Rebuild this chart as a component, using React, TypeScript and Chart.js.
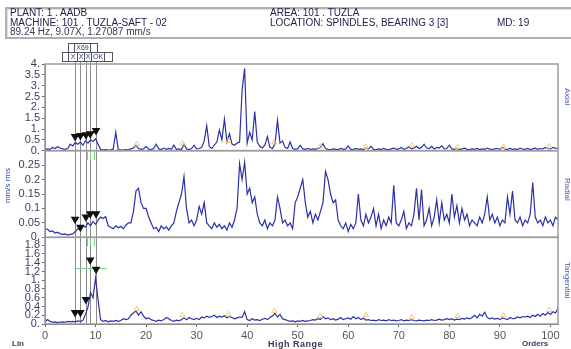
import React, { useEffect, useRef } from 'react';
import { Chart, registerables } from 'chart.js';

Chart.register(...registerables);

// ---------------- DATA ----------------
const ORDER_STEP = 0.5; // spectral line spacing in orders
const X_MAX = 101.5;
const X_TICKS = [0, 10, 20, 30, 40, 50, 60, 70, 80, 90, 100];

const AXIAL_TICKS = [0, 0.5, 1, 1.5, 2, 2.5, 3, 3.5, 4];
const RADIAL_TICKS = [0, 0.05, 0.1, 0.15, 0.2, 0.25];
const TANG_TICKS = [0, 0.2, 0.4, 0.6, 0.8, 1, 1.2, 1.4, 1.6, 1.8];

const AXIAL = [
  0.05, 0.08, 0.06, 0.15, 0.1, 0.18, 0.12, 0.08, 0.06, 0.1,
  0.3, 0.22, 0.38, 0.3, 0.4, 0.25, 0.45, 0.35, 0.5, 0.42,
  0.55, 0.3, 0.06, 0.04, 0.05, 0.03, 0.04, 0.08, 0.85, 0.05,
  0.04, 0.03, 0.05, 0.04, 0.08, 0.12, 0.25, 0.1, 0.06, 0.08,
  0.2, 0.07, 0.05, 0.1, 0.3, 0.08, 0.05, 0.12, 0.06, 0.1,
  0.06, 0.25, 0.06, 0.08, 0.05, 0.3, 0.08, 0.05, 0.1, 0.25,
  0.08, 0.1, 0.15, 0.45, 1.15, 0.2, 0.1, 0.25, 0.4, 0.95,
  0.5, 1.45, 0.4, 0.78, 0.3, 0.25, 0.35, 0.4, 2.8, 3.8,
  0.35, 0.85, 0.5, 1.8, 0.4, 0.2, 0.12, 0.25, 0.65, 0.15,
  0.1, 0.3, 1.4, 0.35, 0.45, 0.15, 0.1, 0.4, 0.1, 0.06,
  0.08, 0.25, 0.08, 0.06, 0.1, 0.05, 0.08, 0.06, 0.1, 0.15,
  0.32, 0.1, 0.06, 0.05, 0.08, 0.06, 0.05, 0.1, 0.06, 0.08,
  0.22, 0.06, 0.05, 0.1, 0.06, 0.08, 0.05, 0.12, 0.08, 0.2,
  0.06, 0.05, 0.08, 0.05, 0.1, 0.06, 0.05, 0.08, 0.12, 0.06,
  0.08, 0.15, 0.06, 0.1, 0.18, 0.08, 0.12, 0.2, 0.1, 0.15,
  0.3, 0.12, 0.1, 0.2, 0.08, 0.15, 0.12, 0.22, 0.08, 0.1,
  0.25, 0.08, 0.06, 0.1, 0.05, 0.08, 0.12, 0.06, 0.05, 0.08,
  0.06, 0.1, 0.05, 0.08, 0.06, 0.12, 0.07, 0.05, 0.08, 0.1,
  0.06, 0.15, 0.08, 0.05, 0.1, 0.06, 0.08, 0.05, 0.12, 0.07,
  0.06, 0.1, 0.05, 0.08, 0.12, 0.06, 0.1, 0.08, 0.15, 0.1,
  0.08, 0.15, 0.12, 0.1,
];

const RADIAL = [
  0.03, 0.028, 0.02, 0.022, 0.015, 0.018, 0.012, 0.01, 0.012, 0.008,
  0.01, 0.012, 0.02, 0.03, 0.025, 0.04, 0.035, 0.05, 0.04, 0.055,
  0.045, 0.06, 0.07, 0.065, 0.072, 0.04, 0.035, 0.03, 0.04, 0.033,
  0.038, 0.03, 0.042, 0.05, 0.05, 0.09, 0.16, 0.17, 0.12, 0.1,
  0.1, 0.07, 0.05, 0.03, 0.035, 0.02, 0.04, 0.03, 0.036, 0.025,
  0.04, 0.05, 0.09, 0.12, 0.15, 0.21, 0.1, 0.05, 0.06, 0.04,
  0.06, 0.107, 0.08, 0.12, 0.05, 0.04, 0.03, 0.05, 0.035, 0.045,
  0.03, 0.04, 0.025, 0.05, 0.035, 0.06, 0.1, 0.255, 0.2, 0.26,
  0.15, 0.17, 0.12, 0.14, 0.08, 0.05, 0.04, 0.06, 0.03, 0.05,
  0.04, 0.06, 0.14, 0.1, 0.05, 0.06, 0.04, 0.05, 0.03, 0.12,
  0.14, 0.17, 0.2, 0.12, 0.07, 0.09, 0.05, 0.08, 0.06, 0.09,
  0.12, 0.228, 0.2, 0.15, 0.12, 0.13, 0.06, 0.04, 0.03, 0.05,
  0.02, 0.045, 0.03, 0.05, 0.15, 0.06, 0.04, 0.08, 0.05, 0.07,
  0.1, 0.04, 0.08, 0.03, 0.06, 0.04, 0.07, 0.05, 0.18, 0.05,
  0.04, 0.06, 0.09, 0.03, 0.05, 0.04, 0.08, 0.17, 0.06, 0.165,
  0.04, 0.06, 0.1, 0.04, 0.07, 0.13, 0.05, 0.12, 0.06, 0.08,
  0.05, 0.15, 0.07, 0.11, 0.05, 0.1, 0.06, 0.08, 0.04, 0.06,
  0.05, 0.04, 0.07, 0.05, 0.08, 0.14, 0.06, 0.08, 0.05, 0.07,
  0.04, 0.06, 0.05, 0.14, 0.08, 0.16, 0.06, 0.05, 0.07, 0.04,
  0.06, 0.05, 0.08, 0.19, 0.07, 0.05, 0.06, 0.04, 0.07, 0.05,
  0.06, 0.04, 0.07, 0.06,
];

const TANGENTIAL = [
  0.05, 0.1, 0.06, 0.04, 0.05, 0.03, 0.04, 0.05, 0.04, 0.06,
  0.05, 0.06, 0.05, 0.07, 0.06, 0.08, 0.22, 0.38, 0.72, 0.6,
  1.05, 0.55, 0.1, 0.06, 0.08, 0.05, 0.07, 0.06, 0.08, 0.06,
  0.08, 0.12, 0.1, 0.12, 0.2, 0.25, 0.3, 0.2, 0.28, 0.18,
  0.12, 0.14, 0.1, 0.08, 0.06, 0.09, 0.07, 0.1, 0.15, 0.12,
  0.08, 0.06, 0.09, 0.07, 0.1, 0.14, 0.1, 0.15, 0.12, 0.1,
  0.13, 0.1, 0.16, 0.14, 0.18, 0.15, 0.17, 0.2, 0.15, 0.18,
  0.16, 0.19, 0.14, 0.17, 0.15, 0.12, 0.14, 0.16, 0.15, 0.28,
  0.1, 0.08, 0.12, 0.09, 0.1, 0.08, 0.11, 0.13, 0.1, 0.15,
  0.18, 0.24, 0.16, 0.22, 0.12, 0.1, 0.08, 0.06, 0.07, 0.05,
  0.07, 0.06, 0.08, 0.06, 0.07, 0.08, 0.1, 0.09, 0.12, 0.1,
  0.17, 0.12, 0.14, 0.1, 0.12, 0.09, 0.11, 0.15, 0.1, 0.12,
  0.14, 0.11, 0.17, 0.12, 0.15, 0.1, 0.13, 0.09, 0.1, 0.08,
  0.09, 0.07, 0.1, 0.08, 0.09, 0.07, 0.1, 0.08, 0.09, 0.07,
  0.08, 0.1, 0.07, 0.09, 0.08, 0.1, 0.08, 0.07, 0.09, 0.08,
  0.07, 0.09, 0.08, 0.1, 0.08, 0.09, 0.11, 0.09, 0.1, 0.12,
  0.1, 0.12, 0.09, 0.11, 0.1, 0.13, 0.11, 0.14, 0.12, 0.15,
  0.2, 0.14, 0.22, 0.18, 0.27, 0.15, 0.12, 0.14, 0.11, 0.13,
  0.1, 0.14, 0.12, 0.1, 0.15, 0.12, 0.13, 0.16, 0.14, 0.17,
  0.16, 0.18, 0.15, 0.2, 0.17, 0.22, 0.18, 0.24, 0.2, 0.26,
  0.22, 0.28, 0.25, 0.36,
];

// cursor lines and their peak markers
const MARKER_ORDERS = [5.95, 7.0, 8.1, 8.95, 10.1];
const AXIAL_MARKS = [0.65, 0.7, 0.74, 0.78, 0.93];
const RADIAL_MARKS = [0.063, 0.035, 0.07, 0.082, 0.082];
const TANG_MARKS = [0.26, 0.26, 0.56, 1.46, 1.25];

// harmonic (yellow) markers
const HARMONIC_ORDERS = [18.14, 27.21, 36.28, 45.35, 54.42, 63.49, 72.56, 81.63, 90.7, 99.77];
const AXIAL_HARM = [0.3, 0.34, 0.45, 0.38, 0.2, 0.18, 0.24, 0.16, 0.18, 0.2];
const TANG_HARM = [0.34, 0.2, 0.22, 0.3, 0.18, 0.2, 0.15, 0.18, 0.2, 0.32];

const GREEN_TICK_ORDERS = [8.4, 9.0, 9.6];
const GREEN_LEVEL_TANG = 1.27;
const GREEN_RANGE = [6, 12.2];

// ---------------- HELPERS ----------------
const FONT = "'Liberation Sans', Arial, sans-serif";
const fmt = (v: number) => (Number.isInteger(v) ? `${v}.` : String(v));
const toXY = (arr: number[]) => arr.map((v, i) => ({ x: i * ORDER_STEP, y: v }));
const pairXY = (xs: number[], ys: number[]) => ys.map((v, i) => ({ x: xs[i], y: v }));

const yScale = (ticks: number[], max: number, weight: number) => ({
  type: 'linear',
  position: 'left',
  stack: 'panels',
  stackWeight: weight,
  min: 0,
  max,
  afterBuildTicks: (s: any) => {
    s.ticks = ticks.map((v) => ({ value: v }));
  },
  afterFit: (s: any) => {
    s.width = 45;
  },
  ticks: {
    callback: (v: any) => fmt(Number(v)),
    font: { family: FONT, size: 11 },
    color: '#3c3c5e',
    padding: 2,
    autoSkip: false,
  },
  grid: { display: true, drawOnChartArea: false, tickLength: 3, color: '#666' },
  border: { display: true, color: '#666', width: 1 },
});

const overlayPlugin = {
  id: 'overlay',
  beforeDatasetsDraw(chart: any) {
    const { ctx, chartArea } = chart;
    const xs = chart.scales.x;
    const yT = chart.scales.yT;
    const yR = chart.scales.yR;
    ctx.save();
    // cursor / marker lines
    ctx.strokeStyle = '#8c8c8c';
    ctx.lineWidth = 1;
    MARKER_ORDERS.forEach((o) => {
      const px = Math.round(xs.getPixelForValue(o)) + 0.5;
      ctx.beginPath();
      ctx.moveTo(px, 61);
      ctx.lineTo(px, chartArea.bottom);
      ctx.stroke();
    });
    // green harmonic indicators
    ctx.strokeStyle = '#7fd27f';
    ctx.lineWidth = 1;
    [yR, yT].forEach((s) => {
      GREEN_TICK_ORDERS.forEach((o) => {
        const px = Math.round(xs.getPixelForValue(o)) + 0.5;
        ctx.beginPath();
        ctx.moveTo(px, s.top + 1);
        ctx.lineTo(px, s.top + 9);
        ctx.stroke();
      });
    });
    const gy = Math.round(yT.getPixelForValue(GREEN_LEVEL_TANG)) + 0.5;
    ctx.beginPath();
    ctx.moveTo(xs.getPixelForValue(GREEN_RANGE[0]), gy);
    ctx.lineTo(xs.getPixelForValue(GREEN_RANGE[1]), gy);
    ctx.stroke();
    ctx.restore();
  },
  afterDatasetsDraw(chart: any) {
    const { ctx, chartArea } = chart;
    ctx.save();
    ctx.strokeStyle = '#9c9c9c';
    ctx.lineWidth = 1.5;
    ['yA', 'yR', 'yT'].forEach((id) => {
      const s = chart.scales[id];
      ctx.strokeRect(chartArea.left, s.top, chartArea.right - chartArea.left, s.bottom - s.top);
    });
    ctx.restore();
  },
};

function App() {
  const ref = useRef<HTMLCanvasElement | null>(null);

  useEffect(() => {
    if (!ref.current) return;
    const lineDs = (data: number[], axis: string) => ({
      type: 'line',
      data: toXY(data),
      yAxisID: axis,
      xAxisID: 'x',
      borderColor: '#2b30a6',
      borderWidth: 1.2,
      pointRadius: 0,
      tension: 0,
      order: 3,
    });
    const markDs = (data: number[], axis: string, showLine: boolean) => ({
      type: 'line',
      data: pairXY(MARKER_ORDERS, data),
      yAxisID: axis,
      xAxisID: 'x',
      showLine,
      borderColor: '#111',
      borderWidth: 2,
      backgroundColor: '#111',
      pointBorderColor: '#111',
      pointBackgroundColor: '#111',
      pointStyle: 'triangle',
      rotation: 180,
      pointRadius: 3,
      order: 1,
    });
    const harmDs = (data: number[], axis: string) => ({
      type: 'line',
      data: pairXY(HARMONIC_ORDERS, data),
      yAxisID: axis,
      xAxisID: 'x',
      showLine: false,
      pointStyle: 'triangle',
      pointRadius: 3,
      pointBorderWidth: 1,
      pointBorderColor: '#efc878',
      pointBackgroundColor: 'rgba(255,255,255,0)',
      order: 2,
    });

    const chart = new Chart(ref.current, {
      type: 'line',
      data: {
        datasets: [
          lineDs(AXIAL, 'yA'),
          lineDs(RADIAL, 'yR'),
          lineDs(TANGENTIAL, 'yT'),
          harmDs(AXIAL_HARM, 'yA'),
          harmDs(TANG_HARM, 'yT'),
          markDs(AXIAL_MARKS, 'yA', true),
          markDs(RADIAL_MARKS, 'yR', false),
          markDs(TANG_MARKS, 'yT', false),
        ] as any,
      },
      options: {
        animation: false,
        responsive: false,
        devicePixelRatio: 1,
        layout: { padding: { top: 64, right: 13, bottom: 0, left: 0 } },
        plugins: { legend: { display: false }, tooltip: { enabled: false } },
        scales: {
          x: {
            type: 'linear',
            min: 0,
            max: X_MAX,
            afterBuildTicks: (s: any) => {
              s.ticks = X_TICKS.map((v) => ({ value: v }));
            },
            afterFit: (s: any) => {
              s.height = 25;
            },
            ticks: {
              callback: (v: any) => String(v),
              font: { family: FONT, size: 11 },
              color: '#555',
              maxRotation: 0,
              padding: 2,
              autoSkip: false,
            },
            grid: { display: true, drawOnChartArea: false, tickLength: 3, color: '#666' },
            border: { display: true, color: '#666' },
          },
          // stacked panels: first listed is placed at the bottom
          yT: yScale(TANG_TICKS, 1.98, 1),
          yR: yScale(RADIAL_TICKS, 0.3, 1),
          yA: yScale(AXIAL_TICKS, 4, 1),
        } as any,
      },
      plugins: [overlayPlugin],
    });
    return () => chart.destroy();
  }, []);

  const txt: React.CSSProperties = {
    position: 'absolute',
    fontFamily: FONT,
    fontSize: 10,
    lineHeight: '10px',
    color: '#23234f',
    whiteSpace: 'nowrap',
  };
  const cell = (w: number, label: string, last = false): React.ReactNode => (
    <span
      style={{
        display: 'inline-block',
        verticalAlign: 'top',
        width: w,
        height: 8,
        lineHeight: '8px',
        textAlign: 'center',
        borderRight: last ? 'none' : '1px solid #555',
        fontSize: 7,
        color: '#2a3a8a',
        fontFamily: FONT,
        overflow: 'hidden',
      }}
    >
      {label}
    </span>
  );

  return (
    <div
      style={{
        position: 'fixed',
        left: 0,
        top: 0,
        width: 571,
        height: 349,
        overflow: 'hidden',
        background: '#fff',
      }}
    >
      <canvas ref={ref} width={571} height={349} style={{ display: 'block', position: 'absolute', left: 0, top: 0 }} />
      {/* header box */}
      <div
        style={{
          position: 'absolute',
          left: 5,
          top: 7,
          width: 590,
          height: 28,
          border: '2px solid #b0b0b0',
          boxShadow: 'inset 1px 1px 0 #e0e0e0',
        }}
      />
      <div style={{ ...txt, left: 10, top: 8 }}>PLANT: 1 . AADB</div>
      <div style={{ ...txt, left: 10, top: 18 }}>MACHINE: 101 . TUZLA-SAFT - 02</div>
      <div style={{ ...txt, left: 10, top: 27, color: '#3d3352' }}>89.24 Hz, 9.07X, 1.27087 mm/s</div>
      <div style={{ ...txt, left: 270, top: 8 }}>AREA: 101 . TUZLA</div>
      <div style={{ ...txt, left: 270, top: 18 }}>LOCATION: SPINDLES, BEARING 3 [3]</div>
      <div style={{ ...txt, left: 497, top: 18 }}>MD: 19</div>

      {/* cursor buttons */}
      <div style={{ position: 'absolute', left: 68, top: 43, height: 8, border: '1px solid #555', background: '#fff', whiteSpace: 'nowrap', lineHeight: 0 }}>
        {cell(5, '')}
        {cell(15, 'X69')}
        {cell(6, '', true)}
      </div>
      <div style={{ position: 'absolute', left: 62, top: 52, height: 8, border: '1px solid #555', background: '#fff', whiteSpace: 'nowrap', lineHeight: 0 }}>
        {cell(5, '')}
        {cell(8, 'X')}
        {cell(6, 'X')}
        {cell(6, 'X')}
        {cell(12, 'OK')}
        {cell(7, '', true)}
      </div>

      {/* y-axis title of the middle panel */}
      <div
        style={{
          ...txt,
          left: 3,
          top: 168,
          fontSize: 8,
          color: '#3b4aa8',
          writingMode: 'vertical-rl',
          transform: 'rotate(180deg)',
        }}
      >
        mm/s rms
      </div>

      {/* right-hand direction labels */}
      <div style={{ ...txt, left: 562, top: 88, fontSize: 8, color: '#4a5cb0', writingMode: 'vertical-rl' }}>Axial</div>
      <div style={{ ...txt, left: 562, top: 178, fontSize: 8, color: '#4a5cb0', writingMode: 'vertical-rl' }}>Radial</div>
      <div style={{ ...txt, left: 562, top: 262, fontSize: 8, color: '#4a5cb0', writingMode: 'vertical-rl' }}>Tangential</div>

      {/* bottom captions */}
      <div style={{ ...txt, left: 12, top: 339, fontSize: 8, fontWeight: 'bold', color: '#3a3a5a' }}>Lin</div>
      <div style={{ ...txt, left: 268, top: 339, fontSize: 9, fontWeight: 'bold', letterSpacing: 0.5, color: '#3a3a5a' }}>High Range</div>
      <div style={{ ...txt, left: 522, top: 339, fontSize: 8, fontWeight: 'bold', color: '#3a3a5a' }}>Orders</div>
    </div>
  );
}

export default App;
